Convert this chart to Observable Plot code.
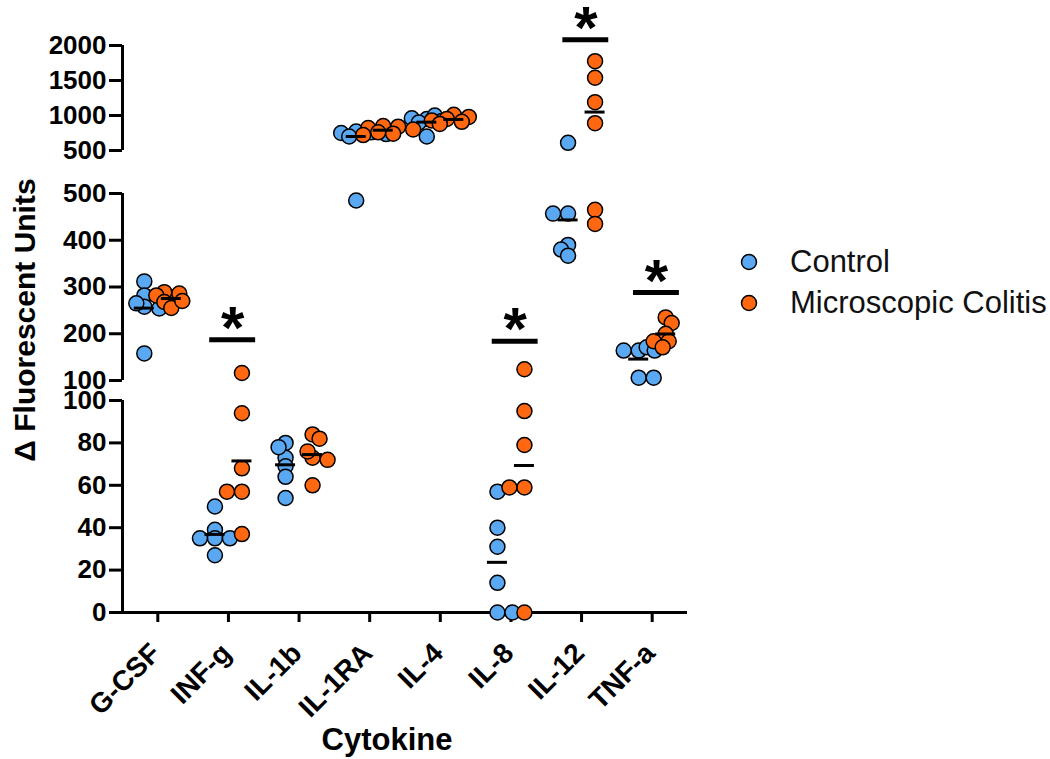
<!DOCTYPE html>
<html><head><meta charset="utf-8">
<script src="https://cdn.jsdelivr.net/npm/d3@7"></script>
<script src="https://cdn.jsdelivr.net/npm/@observablehq/plot@0.6"></script>
<style>
body{margin:0;background:#fff;}
#wrap{position:relative;width:1050px;height:759px;font-family:'Liberation Sans',Arial,sans-serif;}
#legend{position:absolute;left:740px;top:241px;font-size:31px;color:#111;}
.row{display:flex;align-items:center;height:41px;white-space:nowrap;}
.row svg{margin-right:32px;}
</style></head><body><div id="wrap"><div id="legend"></div></div>
<script>
// ---- data ----
const cytokines = ["G-CSF", "INF-g", "IL-1b", "IL-1RA", "IL-4", "IL-8", "IL-12", "TNF-a"];
const groups = ["Control", "Microscopic Colitis"];
const groupColors = ["#5AA7F2", "#FF6810"];
const controlValues = [
  [312, 282, 258, 254, 265, 158],
  [50, 39, 35, 35, 35, 27],
  [80, 73, 78, 69, 64, 54],
  [770, 760, 750, 735, 700, 485],
  [950, 1000, 960, 920, 900, 700],
  [0, 0, 14, 31, 40, 57],
  [610, 457, 457, 390, 380, 367],
  [164, 171, 164, 164, 106, 106]
];
const colitisValues = [
  [278, 286, 289, 282, 268, 255, 270],
  [116, 94, 68, 57, 57, 37],
  [84, 82, 73, 72, 76, 60],
  [850, 840, 820, 800, 760, 740, 720],
  [1010, 980, 950, 930, 910, 880],
  [0, 59, 59, 79, 95, 124],
  [1776, 1539, 1190, 890, 465, 435],
  [235, 223, 200, 184, 184, 171]
];
const sigCytokines = ["INF-g", "IL-8", "IL-12", "TNF-a"];
const sigLevels = [187, 184, 2082, 288];
// broken y axis: three segments of the value axis and their stacked lengths
const ySegments = [[0, 100], [100, 500], [500, 2000]];
const ySegmentLengths = [212, 187, 105];
const ySegmentGaps = [20, 43];
const yTickSets = [[0, 20, 40, 60, 80, 100], [100, 200, 300, 400, 500], [500, 1000, 1500, 2000]];

// ---- broken-axis transform (value -> stacked axis units) ----
const segStarts = [];
{ let acc = 0; ySegments.forEach((s, i) => { segStarts.push(acc); acc += ySegmentLengths[i] + (ySegmentGaps[i] || 0); }); }
const yTop = segStarts[2] + ySegmentLengths[2];
function segOf(v) { return v <= ySegments[0][1] ? 0 : v <= ySegments[1][1] ? 1 : 2; }
function toAxis(v, s = segOf(v)) {
  const [a, b] = ySegments[s];
  return segStarts[s] + (v - a) / (b - a) * ySegmentLengths[s];
}
const tickPos = [], tickLab = [];
yTickSets.forEach((ts, s) => ts.forEach(t => { tickPos.push(toAxis(t, s)); tickLab.push(String(t)); }));
const labelAt = new Map(tickPos.map((p, i) => [p, tickLab[i]]));

// ---- layout ----
const W = 1050, H = 759, mL = 122, mR = 363, mT = 45, mB = 147;
const plotH = H - mT - mB;
const pxPerAxis = plotH / yTop;
const pxPerUnit = (W - mL - mR) / cytokines.length;
const groupShift = [-13.5, 13.5];

function clash(p, o, py) {
  const dx = Math.abs(p.o - o), dy = Math.abs(p.py - py);
  return dy < 3 ? dx < 15 : Math.hypot(dx, dy) < 8;
}

const points = [], means = [];
[controlValues, colitisValues].forEach((vals, g) => {
  vals.forEach((arr, ci) => {
    const placed = [];
    arr.forEach((v, j) => {
      const py = toAxis(v) * pxPerAxis;
      let off = 0;
      search: for (let k = 0; k < 80; k++) {
        for (const s of (j % 2 ? [1, -1] : [-1, 1])) {
          const o = k * s;
          if (!placed.some(p => clash(p, o, py))) { off = o; break search; }
        }
      }
      placed.push({o: off, py});
      points.push({cytokine: cytokines[ci], group: groups[g], value: v, ya: toAxis(v), x: ci + (groupShift[g] + off) / pxPerUnit});
    });
    const c = ci + groupShift[g] / pxPerUnit;
    const m = d3.mean(arr);
    means.push({x1: c - 10 / pxPerUnit, x2: c + 10 / pxPerUnit, ya: toAxis(m)});
  });
});
const sig = sigCytokines.map((c, i) => {
  const ci = cytokines.indexOf(c);
  return {x1: ci + 0.06 - 0.325, x2: ci + 0.06 + 0.325, xc: ci + 0.06, ya: toAxis(sigLevels[i])};
});
const axisSegs = ySegments.map((s, i) => ({x: -0.5, y1: toAxis(s[0], i), y2: toAxis(s[1], i)}));
const xAxisLine = [{y: 0, x1: -0.5, x2: cytokines.length - 0.5}];

const chart = Plot.plot({
  width: W, height: H,
  marginLeft: mL, marginRight: mR, marginTop: mT, marginBottom: mB,
  style: {fontFamily: "'Liberation Sans', Arial, sans-serif", color: "black", background: "white", overflow: "visible"},
  x: {domain: [-0.5, cytokines.length - 0.5]},
  y: {domain: [0, yTop]},
  color: {domain: groups, range: groupColors},
  marks: [
    Plot.ruleX(axisSegs, {x: "x", y1: "y1", y2: "y2", strokeWidth: 3}),
    Plot.ruleY(xAxisLine, {y: "y", x1: "x1", x2: "x2", strokeWidth: 3}),
    Plot.axisY({ticks: tickPos, tickFormat: d => labelAt.get(d), tickSize: 13, tickPadding: 3,
      strokeWidth: 3, fontSize: 26, fontWeight: "bold", label: null}),
    Plot.axisX({ticks: d3.range(cytokines.length), tickFormat: () => "", tickSize: 10,
      strokeWidth: 3, label: null}),
    Plot.text(cytokines, {x: (d, i) => i, text: d => d, frameAnchor: "bottom", rotate: -45,
      textAnchor: "end", lineAnchor: "middle", dx: -2, dy: 36, fontSize: 28, fontWeight: "bold"}),
    Plot.dot(points, {x: "x", y: "ya", r: 7.5, fill: "group", stroke: "black", strokeWidth: 1.5}),
    Plot.ruleY(means, {y: "ya", x1: "x1", x2: "x2", strokeWidth: 3}),
    Plot.ruleY(sig, {y: "ya", x1: "x1", x2: "x2", strokeWidth: 5}),
    Plot.text(sig, {x: "xc", y: "ya", text: () => "*", fontSize: 60, fontWeight: "bold", lineAnchor: "middle", dy: -11}),
    Plot.text(["Δ Fluorescent Units"], {text: d => d, frameAnchor: "left", textAnchor: "middle", lineAnchor: "middle",
      rotate: -90, dx: -97, dy: -9, fontSize: 30, fontWeight: "bold"}),
    Plot.text(["Cytokine"], {text: d => d, frameAnchor: "bottom", textAnchor: "middle", lineAnchor: "middle",
      dx: -18, dy: 128, fontSize: 31, fontWeight: "bold"})
  ]
});
document.getElementById("wrap").prepend(chart);

const legend = document.getElementById("legend");
groups.forEach((g, i) => {
  const row = document.createElement("div");
  row.className = "row";
  row.innerHTML = `<svg width="18" height="18"><circle cx="9" cy="9" r="7.5" fill="${groupColors[i]}" stroke="black" stroke-width="1.5"/></svg><span>${g}</span>`;
  legend.appendChild(row);
});
</script>
</body></html>
